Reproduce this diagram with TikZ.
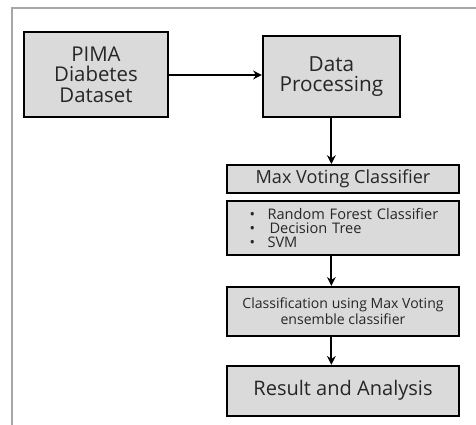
\documentclass[tikz,border=0pt]{standalone}
\usepackage{fontspec}
\setmainfont{Open Sans}
\usetikzlibrary{positioning,arrows.meta}
\definecolor{boxgray}{HTML}{DADADA}
\definecolor{txtgray}{HTML}{262626}
\begin{document}
\begin{tikzpicture}[x=0.02cm, y=-0.02cm, line width=1.1pt, >={Stealth[length=5pt,width=5pt]},
    main/.style = {draw, fill=boxgray, align=center, inner sep=2pt, text=txtgray},
    wide/.style = {main, minimum width=4.64cm}]
    \useasboundingbox (0,0) rectangle (476,425);
    \draw[gray!70, line width=0.7pt] (476,8) -- (12,8) -- (12,425);
    \node[main, minimum width=2.88cm, minimum height=1.7cm, font=\fontsize{11.6}{11.6}\selectfont] (1) at (96,74.5) {PIMA\\Diabetes\\Dataset};
    \node[main, minimum width=2.74cm, minimum height=1.62cm, font=\fontsize{11.8}{11.6}\selectfont] (2) [right=1.86cm of 1.south east, anchor=south west] {Data\\Processing};
    \node[wide, minimum height=0.56cm, font=\fontsize{10.3}{10}\selectfont] (3) at (343,179) {Max Voting Classifier};
    \node[wide, minimum height=1.08cm, align=left, text width=4.14cm, inner xsep=0.25cm, font=\fontsize{8.3}{8.2}\selectfont] (4) [below=0.12cm of 3]
        {\hspace*{0.2cm}\textbullet\hspace{0.25cm}Random Forest Classifier\\ \hspace*{0.2cm}\textbullet\hspace{0.29cm}Decision Tree\\ \hspace*{0.2cm}\textbullet\hspace{0.25cm}SVM};
    \node[wide, minimum height=0.98cm, font=\fontsize{8}{7.8}\selectfont] (5) [below=0.6cm of 4] {Classification using Max Voting\\ensemble classifier};
    \node[wide, minimum height=1cm, font=\fontsize{11.4}{11}\selectfont] (6) [below=0.56cm of 5] {Result and Analysis};
    \draw[->] (1.east |- 0,75) -- (2.west |- 0,75);
    \draw[->] (2.south) -- (2.south |- 3.north);
    \draw[->] (4.south -| 2.south) -- (5.north -| 2.south);
    \draw[->] (5.south -| 2.south) -- (6.north -| 2.south);
\end{tikzpicture}
\end{document}
